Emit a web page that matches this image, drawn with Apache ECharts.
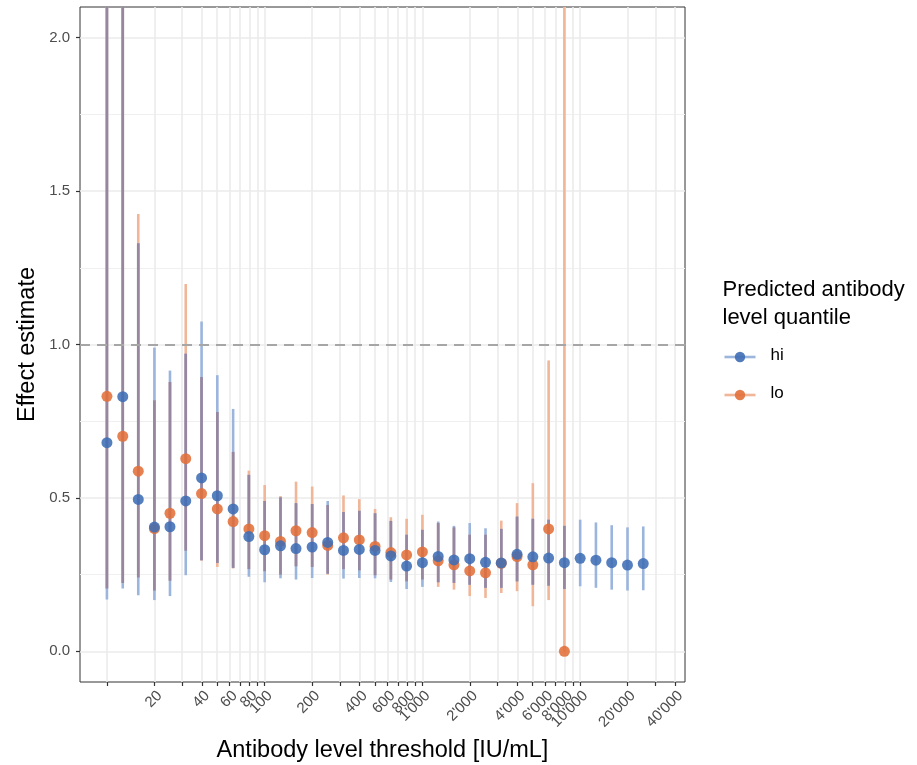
<!DOCTYPE html>
<html>
<head>
<meta charset="utf-8">
<script src="https://cdn.jsdelivr.net/npm/echarts@6/dist/echarts.min.js"></script>
<style>
  html, body { margin: 0; padding: 0; background: #fff; }
  #chart { width: 917px; height: 765px; }
</style>
</head>
<body>
<div id="chart"></div>
<script>
// thresholds [IU/mL], one per estimate
const thresholds = [10, 12.6, 15.8, 20, 25.1, 31.6, 39.8, 50.1, 63.1, 79.4,
  100, 126, 158, 200, 251, 316, 398, 501, 631, 794,
  1000, 1259, 1585, 1995, 2512, 3162, 3981, 5012, 6310, 7943,
  10000, 12589, 15849, 19953, 25119];

// "hi" quantile
const hiEst = [0.68, 0.83, 0.495, 0.405, 0.406, 0.49, 0.565, 0.507, 0.464, 0.374,
  0.331, 0.344, 0.335, 0.34, 0.355, 0.329, 0.332, 0.329, 0.311, 0.278,
  0.289, 0.309, 0.298, 0.302, 0.29, 0.288, 0.316, 0.308, 0.304, 0.289,
  0.303, 0.297, 0.289, 0.281, 0.286];
const hiLower = [0.169, 0.205, 0.183, 0.167, 0.18, 0.248, 0.297, 0.288, 0.272, 0.243,
  0.225, 0.238, 0.234, 0.239, 0.253, 0.237, 0.239, 0.238, 0.226, 0.203,
  0.21, 0.225, 0.223, 0.217, 0.207, 0.207, 0.228, 0.217, 0.214, 0.203,
  0.212, 0.207, 0.201, 0.198, 0.199];
const hiUpper = [3.0, 3.0, 1.33, 0.99, 0.915, 0.97, 1.075, 0.9, 0.79, 0.575,
  0.49, 0.502, 0.483, 0.48, 0.49, 0.454, 0.458, 0.45, 0.425, 0.38,
  0.396, 0.423, 0.409, 0.418, 0.401, 0.399, 0.439, 0.432, 0.429, 0.409,
  0.429, 0.42, 0.411, 0.404, 0.407];

// "lo" quantile
const loEst = [0.831, 0.701, 0.587, 0.4, 0.45, 0.628, 0.514, 0.464, 0.423, 0.399,
  0.377, 0.358, 0.393, 0.387, 0.345, 0.37, 0.363, 0.342, 0.322, 0.314,
  0.324, 0.295, 0.282, 0.262, 0.256, 0.287, 0.309, 0.282, 0.399, 0.0];
const loLower = [0.205, 0.223, 0.241, 0.198, 0.23, 0.328, 0.295, 0.275, 0.27, 0.268,
  0.261, 0.25, 0.277, 0.275, 0.25, 0.268, 0.264, 0.248, 0.234, 0.228,
  0.234, 0.21, 0.201, 0.18, 0.174, 0.19, 0.196, 0.147, 0.167, 0.0];
const loUpper = [3.0, 3.0, 1.425, 0.818, 0.878, 1.197, 0.894, 0.78, 0.65, 0.589,
  0.542, 0.506, 0.553, 0.537, 0.477, 0.508, 0.496, 0.464, 0.437, 0.432,
  0.445, 0.418, 0.404, 0.38, 0.38, 0.426, 0.483, 0.548, 0.948, 3.0];

// axis ticks
const xTicks = [10, 20, 30, 40, 50, 60, 70, 80, 90, 100, 200, 300, 400, 500, 600, 700, 800, 900,
  1000, 2000, 3000, 4000, 5000, 6000, 7000, 8000, 9000, 10000, 20000, 30000, 40000];
const xLabels = [20, 40, 60, 80, 100, 200, 400, 600, 800, 1000, 2000, 4000, 6000, 8000, 10000, 20000, 40000];
const yTicks = [0, 0.5, 1, 1.5, 2];
const yMinor = [0.25, 0.75, 1.25, 1.75];

const blue = '#3f6db5';
const orange = '#e2703a';
const blueBar = '#9cb5dd';
const orangeBar = '#f1b598';
const bothBar = '#9786a0';   // where the two intervals overlap

const lg = Math.log10;

function fmt(v) {
  const n = Math.round(Math.pow(10, v));
  return String(n).replace(/\B(?=(\d{3})+(?!\d))/g, "'");
}

function barSeries(name, data, color) {
  return {
    name: name,
    type: 'custom',
    clip: true,
    z: 2,
    data: data,
    renderItem: function (params, api) {
      const p1 = api.coord([api.value(0), api.value(1)]);
      const p2 = api.coord([api.value(0), api.value(2)]);
      return {
        type: 'line',
        shape: { x1: p1[0], y1: p1[1], x2: p2[0], y2: p2[1] },
        style: { stroke: color, lineWidth: 2.6 }
      };
    }
  };
}

const loBars = loLower.map((l, i) => [lg(thresholds[i]), l, loUpper[i]]);
const hiBars = hiLower.map((l, i) => [lg(thresholds[i]), l, hiUpper[i]]);
const overlap = loLower.map((l, i) => [lg(thresholds[i]), Math.max(l, hiLower[i]), Math.min(loUpper[i], hiUpper[i])]);

const chart = echarts.init(document.getElementById('chart'));

const axisText = { color: '#4d4d4d', fontFamily: 'Liberation Sans', fontSize: 15 };
const titleText = { color: '#000', fontFamily: 'Liberation Sans', fontSize: 23.5 };

const option = {
  animation: false,
  grid: {
    left: 80, right: 232, top: 7, bottom: 83,
    outerBoundsMode: 'none',
    show: true, borderColor: '#333', borderWidth: 1
  },
  xAxis: {
    type: 'value',
    min: lg(6.75),
    max: lg(46200),
    name: 'Antibody level threshold [IU/mL]',
    nameLocation: 'middle',
    nameGap: 57,
    nameTextStyle: titleText,
    axisLine: { show: false, onZero: false },
    axisTick: { show: true, length: 4, customValues: xTicks.map(lg), lineStyle: { color: '#333', width: 1.2 } },
    axisLabel: Object.assign({
      customValues: xLabels.map(lg),
      formatter: fmt,
      rotate: 45,
      margin: 6,
      verticalAlign: 'top',
      hideOverlap: false
    }, axisText),
    splitLine: { show: true, lineStyle: { color: '#ebebeb', width: 1.6 } }
  },
  yAxis: [
    {
      type: 'value',
      min: -0.1,
      max: 2.1,
      name: 'Effect estimate',
      nameLocation: 'middle',
      nameGap: 40,
      nameMoveOverlap: false,
      nameTextStyle: titleText,
      axisLine: { show: false, onZero: false },
      axisTick: { show: true, length: 4, customValues: yTicks, lineStyle: { color: '#333', width: 1.2 } },
      axisLabel: Object.assign({ customValues: yTicks, formatter: v => v.toFixed(1), margin: 10 }, axisText),
      splitLine: { show: true, lineStyle: { color: '#ebebeb', width: 1.6 } }
    },
    {
      type: 'value',
      min: -0.1,
      max: 2.1,
      position: 'left',
      axisLine: { show: false, onZero: false },
      axisTick: { show: false, customValues: yMinor },
      axisLabel: { show: false, customValues: yMinor },
      splitLine: { show: true, lineStyle: { color: '#f0f0f0', width: 1 } }
    }
  ],
  series: [
    barSeries('lo bars', loBars, orangeBar),
    barSeries('hi bars', hiBars, blueBar),
    barSeries('overlap', overlap, bothBar),
    {
      name: 'lo',
      type: 'scatter',
      z: 3,
      symbolSize: 11,
      itemStyle: { color: orange, opacity: 0.88 },
      data: loEst.map((v, i) => [lg(thresholds[i]), v]),
      markLine: {
        silent: true,
        symbol: ['none', 'none'],
        label: { show: false },
        lineStyle: { color: '#a6a6a6', type: [10, 7], width: 2 },
        data: [{ yAxis: 1 }]
      }
    },
    {
      name: 'hi',
      type: 'scatter',
      z: 4,
      symbolSize: 11,
      itemStyle: { color: blue, opacity: 0.88 },
      data: hiEst.map((v, i) => [lg(thresholds[i]), v])
    }
  ],
  graphic: [
    {
      type: 'group',
      left: 722,
      top: 276,
      children: [
        { type: 'text', x: 0, y: 0, style: { text: 'Predicted antibody\nlevel quantile', fill: '#000', font: '22px "Liberation Sans"', lineHeight: 28 } },
        { type: 'line', shape: { x1: 2, y1: 81, x2: 33, y2: 81 }, style: { stroke: blueBar, lineWidth: 2.6 } },
        { type: 'circle', shape: { cx: 17.5, cy: 81, r: 5.2 }, style: { fill: blue, opacity: 0.9 } },
        { type: 'text', x: 48, y: 71, style: { text: 'hi', fill: '#000', font: '17px "Liberation Sans"' } },
        { type: 'line', shape: { x1: 2, y1: 119, x2: 33, y2: 119 }, style: { stroke: orangeBar, lineWidth: 2.6 } },
        { type: 'circle', shape: { cx: 17.5, cy: 119, r: 5.2 }, style: { fill: orange, opacity: 0.9 } },
        { type: 'text', x: 48, y: 109, style: { text: 'lo', fill: '#000', font: '17px "Liberation Sans"' } }
      ]
    }
  ]
};

chart.setOption(option);
window.addEventListener('resize', () => chart.resize());
</script>
</body>
</html>
